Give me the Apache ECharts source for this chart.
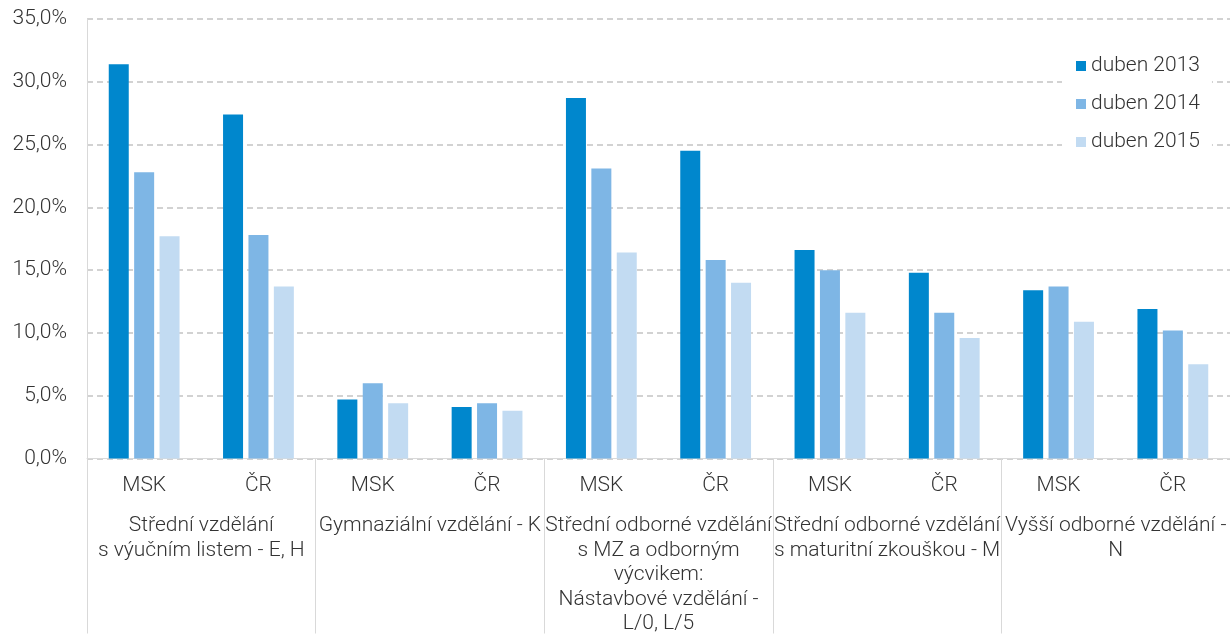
<!DOCTYPE html>
<html>
<head>
<meta charset="utf-8">
<script src="https://cdn.jsdelivr.net/npm/echarts@6/dist/echarts.min.js"></script>
<style>
  html, body { margin: 0; padding: 0; background: #fff; }
  #barChart { width: 1230px; height: 636px; }
</style>
</head>
<body>
<div id="barChart"></div>
<script>
// data (%)
var regions = ['MSK', 'ČR', 'MSK', 'ČR', 'MSK', 'ČR', 'MSK', 'ČR', 'MSK', 'ČR'];
var groups = [
  'Střední vzdělání\ns výučním listem - E, H',
  'Gymnaziální vzdělání - K',
  'Střední odborné vzdělání\ns MZ a odborným\nvýcvikem:\nNástavbové vzdělání -\nL/0, L/5',
  'Střední odborné vzdělání\ns maturitní zkouškou - M',
  'Vyšší odborné vzdělání -\nN'
];
var seriesNames = ['duben 2013', 'duben 2014', 'duben 2015'];
var apr2013 = [31.4, 27.4, 4.7, 4.1, 28.7, 24.5, 16.6, 14.8, 13.4, 11.9];
var apr2014 = [22.8, 17.8, 6.0, 4.4, 23.1, 15.8, 15.0, 11.6, 13.7, 10.2];
var apr2015 = [17.7, 13.7, 4.4, 3.8, 16.4, 14.0, 11.6, 9.6, 10.9, 7.5];
var colors = ['#0087cd', '#7eb6e5', '#c2dbf2'];

var font = 'Roboto';
var fontSize = 21;
var textColor = '#333333';
var lineColor = '#d9d9d9';

var myChart = echarts.init(document.getElementById('barChart'));

function bar(name, data, i) {
  return {
    name: name,
    type: 'bar',
    data: data,
    barWidth: 20,
    barGap: '27%',
    itemStyle: { color: colors[i] }
  };
}

myChart.setOption({
  animation: false,
  textStyle: { fontFamily: font, fontWeight: 300 },
  grid: { left: 87, right: 0, top: 19, height: 444 },
  legend: {
    orient: 'vertical',
    left: 1062,
    top: 47,
    padding: [8, 12, 8, 14],
    backgroundColor: '#fff',
    itemWidth: 10,
    itemHeight: 10,
    itemGap: 16,
    icon: 'rect',
    textStyle: { fontSize: fontSize, lineHeight: 22, color: textColor, fontFamily: font, fontWeight: 300 },
    data: seriesNames
  },
  xAxis: [
    {
      type: 'category',
      data: regions,
      axisLine: { lineStyle: { color: lineColor } },
      axisTick: { show: false },
      axisLabel: { interval: 0, margin: 15, fontSize: fontSize, lineHeight: 24, color: textColor, fontFamily: font, fontWeight: 300 }
    },
    {
      type: 'category',
      data: groups,
      position: 'bottom',
      axisLine: { show: false },
      axisTick: { show: true, interval: 0, length: 175, lineStyle: { color: lineColor } },
      axisLabel: {
        interval: 0, margin: 55, fontSize: fontSize, lineHeight: 24.5,
        color: textColor, fontFamily: font, fontWeight: 300, hideOverlap: false
      }
    }
  ],
  yAxis: {
    type: 'value',
    min: 0,
    max: 35,
    interval: 5,
    axisLine: { show: true, lineStyle: { color: lineColor } },
    axisTick: { show: false },
    splitLine: { lineStyle: { color: '#c4c4c4', type: [6, 4], width: 1.5 } },
    axisLabel: {
      margin: 20, fontSize: fontSize, color: textColor, fontFamily: font, fontWeight: 300,
      formatter: function (v) { return v.toFixed(1).replace('.', ',') + '%'; }
    }
  },
  series: [
    bar(seriesNames[0], apr2013, 0),
    bar(seriesNames[1], apr2014, 1),
    bar(seriesNames[2], apr2015, 2)
  ]
});
</script>
</body>
</html>
